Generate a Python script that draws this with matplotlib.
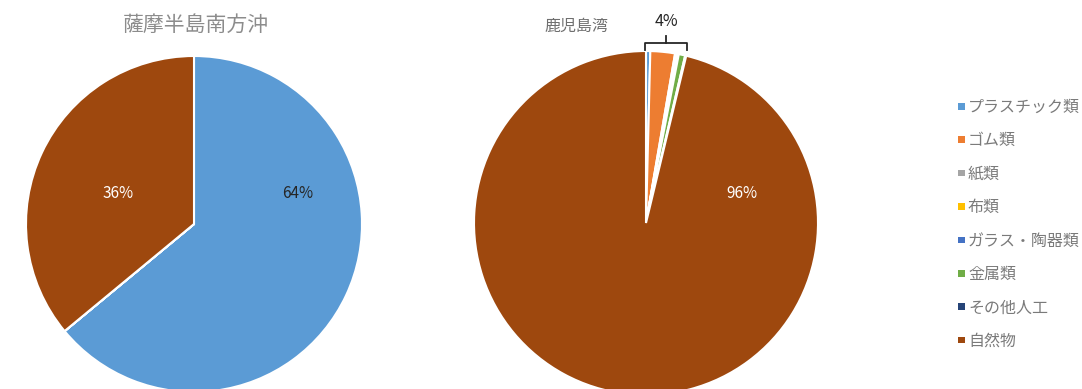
import matplotlib
matplotlib.use("Agg")
import matplotlib.pyplot as plt

plt.rcParams['font.family'] = ['Noto Sans CJK JP', 'DejaVu Sans']

categories = ["プラスチック類", "ゴム類", "紙類", "布類", "ガラス・陶器類", "金属類", "その他人工", "自然物"]
colors = ["#5B9BD5", "#ED7D31", "#A5A5A5", "#FFC000", "#4472C4", "#70AD47", "#264478", "#9E480E"]

left_title = "薩摩半島南方沖"
left_values = [64, 0, 0, 0, 0, 0, 0, 36]
left_labels = ["64%", "36%"]

right_title = "鹿児島湾"
right_values = [0.4, 2.3, 0.15, 0.05, 0.15, 0.6, 0.1, 96.0]
right_label = "96%"
group_label = "4%"

W, H = 1082, 389
fig = plt.figure(figsize=(W / 100, H / 100), dpi=100)


def px_axes(cx, cy, r):
    return fig.add_axes([(cx - r) / W, (H - cy - r) / H, 2 * r / W, 2 * r / H])


def draw_pie(ax, vals):
    ax.pie(vals, colors=colors, startangle=90, counterclock=False,
           wedgeprops=dict(edgecolor="white", linewidth=1.5), radius=1.0)
    ax.set_xlim(-1, 1)
    ax.set_ylim(-1, 1)
    ax.set_aspect("equal")
    ax.axis("off")


axL = px_axes(194, 224, 168)
draw_pie(axL, left_values)
axL.text(0.62, 0.18, left_labels[0], ha="center", va="center", fontsize=11, color="#262626")
axL.text(-0.45, 0.18, left_labels[1], ha="center", va="center", fontsize=11, color="white")

axR = px_axes(646, 223, 172)
draw_pie(axR, right_values)
axR.text(0.56, 0.17, right_label, ha="center", va="center", fontsize=11, color="white")
# bracket around the small wedges
bx0, bx1, btop, bend, bmid = -0.006, 0.238, 1.047, 1.006, 0.116
axR.plot([bx0, bx0, bx1, bx1], [bend, btop, btop, bend], color="#262626", lw=1.3, clip_on=False)
axR.plot([bmid, bmid], [btop, 1.087], color="#262626", lw=1.3, clip_on=False)
axR.text(bmid, 1.17, group_label, ha="center", va="center", fontsize=11.5, color="#262626", clip_on=False)

fig.text(196 / W, 1 - 25 / H, left_title, ha="center", va="center", fontsize=15, color="#8c8c8c")
fig.text(576 / W, 1 - 26 / H, right_title, ha="center", va="center", fontsize=11.5, color="#6f6f6f")

# legend
y0, dy = 106.5, 33.4
for i, (c, lab) in enumerate(zip(colors, categories)):
    y = y0 + i * dy
    fig.patches.append(plt.Rectangle((958 / W, 1 - (y + 3) / H), 6.5 / W, 6.5 / H,
                                     transform=fig.transFigure, facecolor=c, edgecolor="none"))
    fig.text(968 / W, 1 - (y + 1) / H, lab, ha="left", va="center", fontsize=11.5, color="#7a7a7a")

fig.savefig("out.png", dpi=100)
